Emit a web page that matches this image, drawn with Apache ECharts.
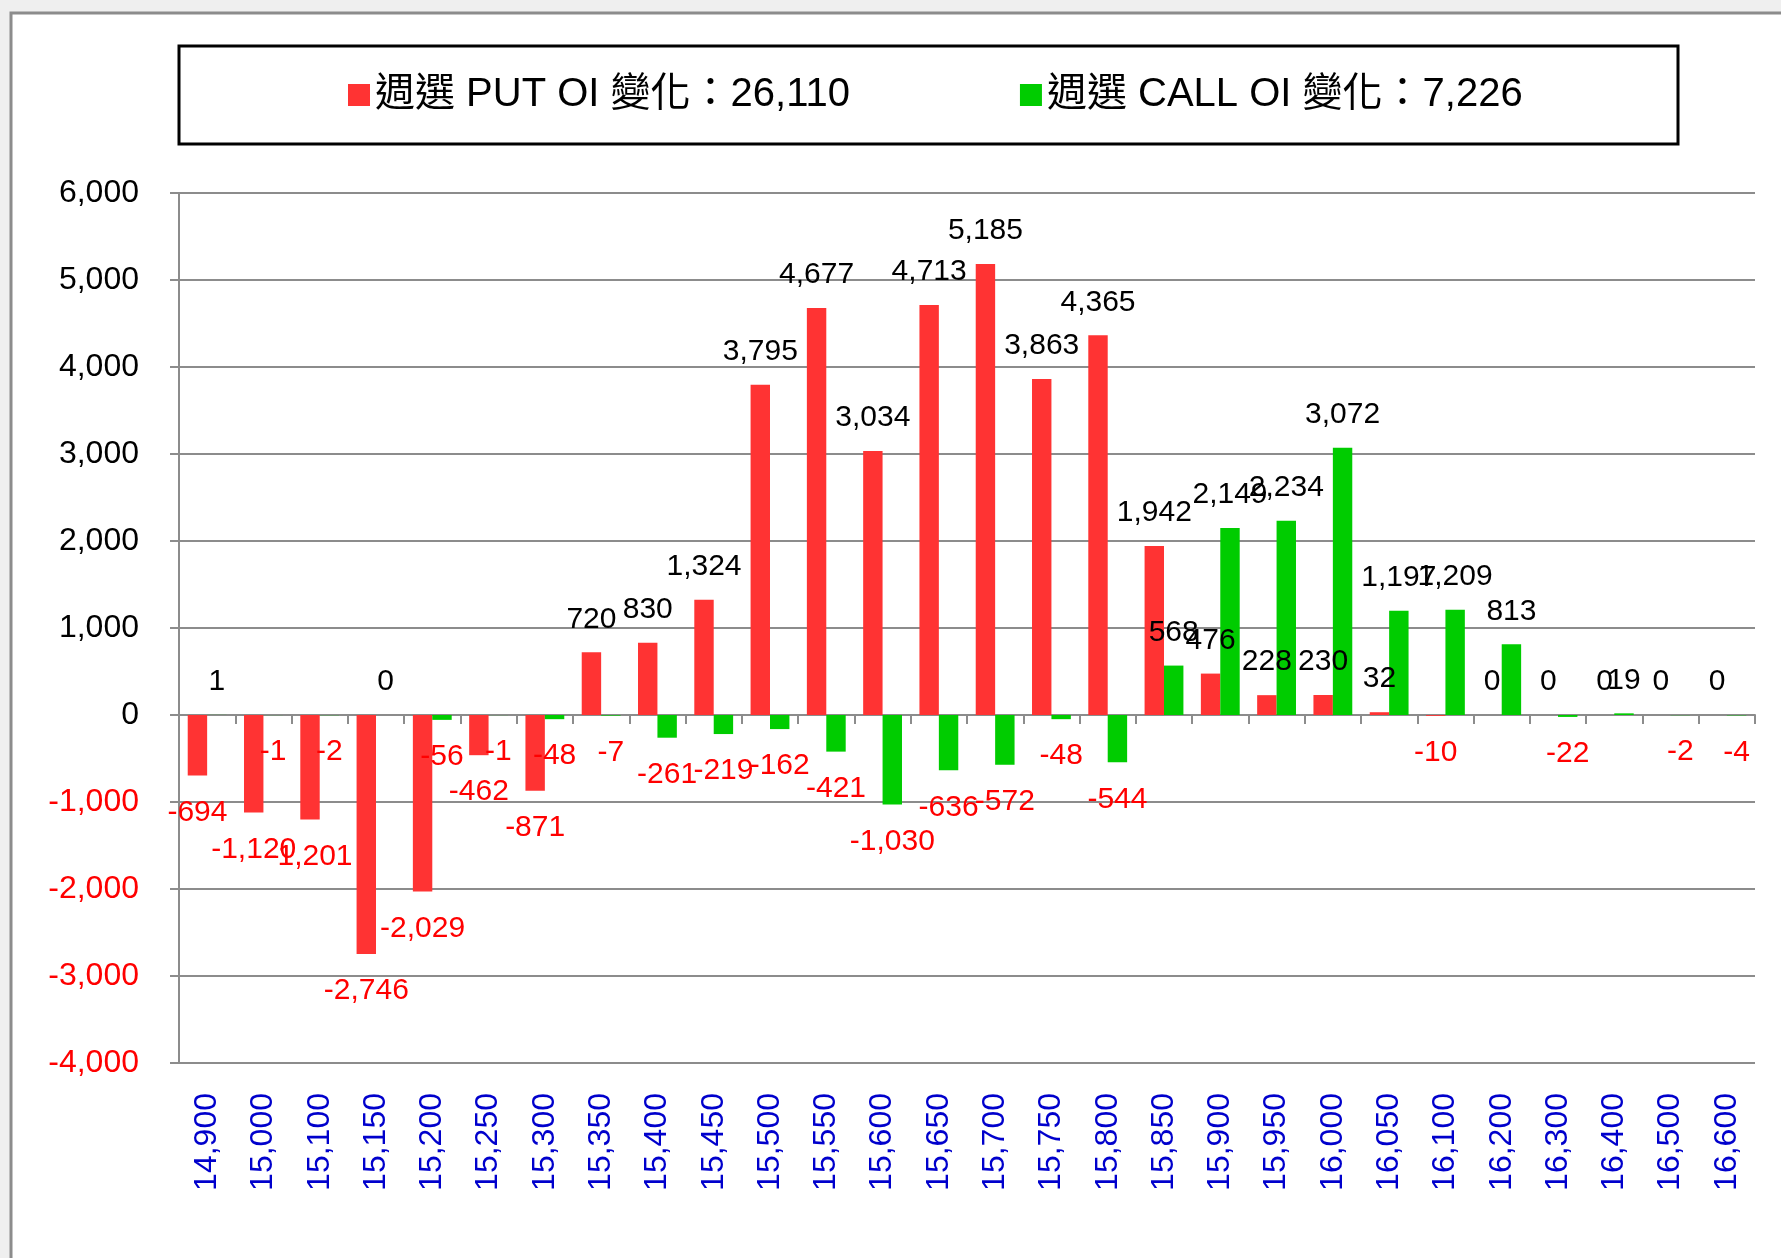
<!DOCTYPE html>
<html>
<head>
<meta charset="utf-8">
<title>週選 OI 變化</title>
<script src="https://cdn.jsdelivr.net/npm/echarts@6/dist/echarts.min.js"></script>
<style>
  html,body{margin:0;padding:0;background:#efefef;}
  #oichart{width:1781px;height:1258px;}
</style>
</head>
<body>
<div id="oichart"></div>
<script>
// 履約價
var strikes = ['14,900','15,000','15,100','15,150','15,200','15,250','15,300','15,350','15,400','15,450',
  '15,500','15,550','15,600','15,650','15,700','15,750','15,800','15,850','15,900','15,950',
  '16,000','16,050','16,100','16,200','16,300','16,400','16,500','16,600'];
// PUT OI 變化
var putOI = [-694,-1120,-1201,-2746,-2029,-462,-871,720,830,1324,
  3795,4677,3034,4713,5185,3863,4365,1942,476,228,
  230,32,-10,0,0,0,0,0];
// CALL OI 變化
var callOI = [1,-1,-2,0,-56,-1,-48,-7,-261,-219,
  -162,-421,-1030,-636,-572,-48,-544,568,2149,2234,
  3072,1197,1209,813,-22,19,-2,-4];
var putName = '週選 PUT OI 變化：26,110';
var callName = '週選 CALL OI 變化：7,226';

var fontLatin = '"Liberation Sans", Arial, "Noto Sans CJK TC", sans-serif';

function fmt(v){
  return Number(v).toLocaleString('en-US');
}

// 正數(含0)標在上方黑字、負數標在下方紅字
function toItems(arr){
  return arr.map(function(v){
    return v < 0
      ? {value: v, label: {position: 'bottom', distance: 22}}
      : {value: v, label: {position: 'top', distance: 18}};
  });
}

var barLabel = {
  show: true,
  fontFamily: fontLatin,
  fontSize: 30,
  formatter: function(p){
    return p.value < 0 ? '{n|' + fmt(p.value) + '}' : '{p|' + fmt(p.value) + '}';
  },
  rich: {
    p: {color: '#000', fontSize: 30, fontFamily: fontLatin},
    n: {color: '#ff0000', fontSize: 30, fontFamily: fontLatin}
  }
};

var option = {
  animation: false,
  graphic: [
    {
      type: 'rect', z: -10, silent: true,
      shape: {x: 11, y: 13, width: 1820, height: 1300},
      style: {fill: '#fff', stroke: '#8c8c8c', lineWidth: 3}
    },
    {
      type: 'rect', z: 0, silent: true,
      shape: {x: 179, y: 46, width: 1499, height: 98},
      style: {fill: 'none', stroke: '#000', lineWidth: 3}
    }
  ],
  legend: {
    left: 343,
    top: 70,
    itemWidth: 22,
    itemHeight: 22,
    itemGap: 170,
    icon: 'rect',
    textStyle: {
      color: '#000',
      fontSize: 40,
      fontFamily: fontLatin
    },
    data: [putName, callName]
  },
  grid: {
    left: 179,
    right: 26,
    top: 193,
    bottom: 195,
    outerBoundsMode: 'none'
  },
  xAxis: [
    {
      type: 'category',
      data: strikes,
      position: 'bottom',
      axisLine: {onZero: true, lineStyle: {color: '#8c8c8c', width: 2}},
      axisTick: {show: true, length: 9, lineStyle: {color: '#8c8c8c', width: 2}},
      axisLabel: {show: false},
      splitLine: {show: false}
    },
    {
      type: 'category',
      data: strikes,
      position: 'bottom',
      axisLine: {show: false, onZero: false},
      axisTick: {show: false},
      axisLabel: {
        show: true,
        interval: 0,
        rotate: 90,
        margin: 30,
        color: '#0000cc',
        fontSize: 32,
        fontFamily: fontLatin
      },
      splitLine: {show: false}
    }
  ],
  yAxis: {
    type: 'value',
    min: -4000,
    max: 6000,
    interval: 1000,
    axisLine: {show: true, lineStyle: {color: '#8c8c8c', width: 2}},
    axisTick: {show: true, length: 9, lineStyle: {color: '#8c8c8c', width: 2}},
    axisLabel: {
      margin: 40,
      fontSize: 32,
      fontFamily: fontLatin,
      formatter: function(v){ return fmt(v); },
      color: function(v){ return Number(v) < 0 ? '#ff0000' : '#000'; }
    },
    splitLine: {lineStyle: {color: '#8c8c8c', width: 2}}
  },
  series: [
    {
      name: putName,
      type: 'bar',
      xAxisIndex: 0,
      barGap: '0%',
      barCategoryGap: '31%',
      itemStyle: {color: '#ff3333'},
      label: barLabel,
      data: toItems(putOI)
    },
    {
      name: callName,
      type: 'bar',
      xAxisIndex: 0,
      barGap: '0%',
      barCategoryGap: '31%',
      itemStyle: {color: '#00cc00'},
      label: barLabel,
      data: toItems(callOI)
    }
  ]
};

var myChart = echarts.init(document.getElementById('oichart'));
myChart.clear();
myChart.setOption(option);
</script>
</body>
</html>
